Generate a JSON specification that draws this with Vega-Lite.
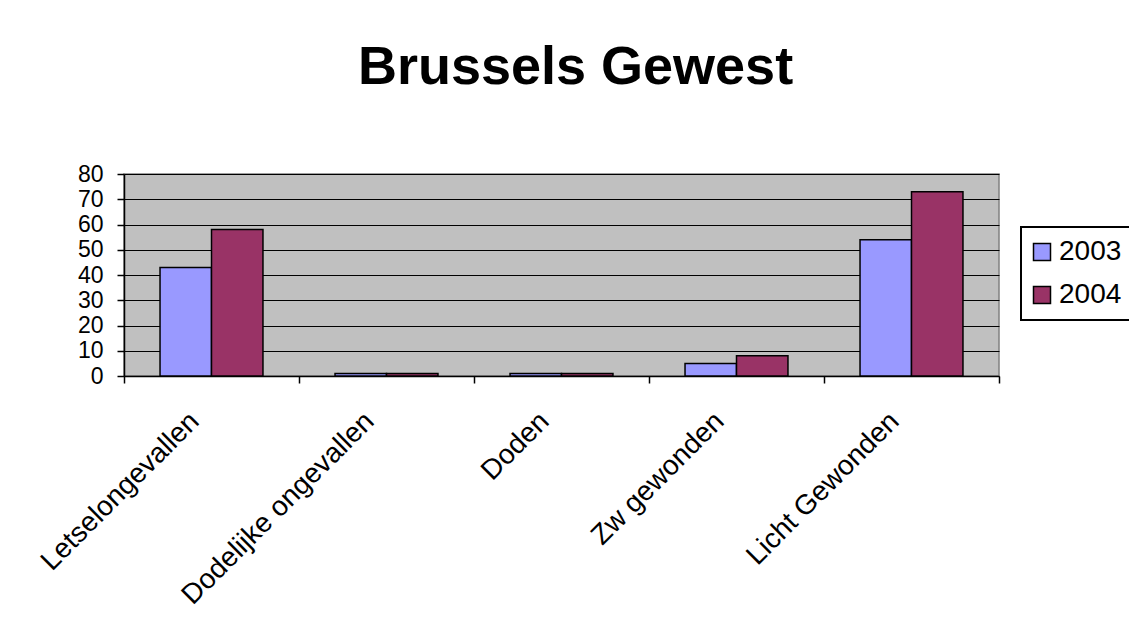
{
  "$schema": "https://vega.github.io/schema/vega-lite/v6.json",
  "width": 875,
  "height": 202,
  "autosize": {"type": "none"},
  "padding": {"left": 124, "top": 174, "right": 130, "bottom": 255},
  "background": "white",
  "title": {
    "text": "Brussels Gewest",
    "font": "Liberation Sans",
    "fontSize": 54,
    "fontWeight": "bold",
    "color": "black",
    "anchor": "middle",
    "baseline": "alphabetic",
    "offset": 25,
    "dx": 14
  },
  "data": {
    "values": [
      {"category": "Letselongevallen", "year": "2003", "value": 43},
      {"category": "Letselongevallen", "year": "2004", "value": 58},
      {"category": "Dodelijke ongevallen", "year": "2003", "value": 1},
      {"category": "Dodelijke ongevallen", "year": "2004", "value": 1},
      {"category": "Doden", "year": "2003", "value": 1},
      {"category": "Doden", "year": "2004", "value": 1},
      {"category": "Zw gewonden", "year": "2003", "value": 5},
      {"category": "Zw gewonden", "year": "2004", "value": 8},
      {"category": "Licht Gewonden", "year": "2003", "value": 54},
      {"category": "Licht Gewonden", "year": "2004", "value": 73}
    ]
  },
  "mark": {"type": "bar", "stroke": "black", "strokeWidth": 1.5},
  "encoding": {
    "x": {
      "field": "category",
      "type": "nominal",
      "sort": null,
      "scale": {"paddingInner": 0, "paddingOuter": 0},
      "axis": {
        "title": null,
        "labelAngle": -45,
        "labelFontSize": 28,
        "labelFont": "Liberation Sans",
        "labelColor": "black",
        "labelLimit": 0,
        "labelOffset": -27,
        "domainColor": "black",
        "domainWidth": 1.5,
        "tickColor": "black",
        "tickWidth": 1.5,
        "tickSize": 7,
        "tickBand": "extent",
        "labelPadding": 24
      }
    },
    "xOffset": {
      "field": "year",
      "type": "nominal",
      "scale": {"paddingInner": 0, "paddingOuter": 0.7}
    },
    "y": {
      "field": "value",
      "type": "quantitative",
      "scale": {"domain": [0, 80], "nice": false},
      "axis": {
        "title": null,
        "values": [0, 10, 20, 30, 40, 50, 60, 70, 80],
        "labelFontSize": 23,
        "labelFont": "Liberation Sans",
        "labelColor": "black",
        "labelPadding": 14,
        "grid": true,
        "gridColor": "black",
        "gridWidth": 1,
        "gridOpacity": 1,
        "domainColor": "black",
        "domainWidth": 1.5,
        "tickColor": "black",
        "tickWidth": 1.5,
        "tickSize": 7
      }
    },
    "color": {
      "field": "year",
      "type": "nominal",
      "scale": {"range": ["#9999FF", "#993366"]},
      "legend": {
        "title": null,
        "orient": "none",
        "legendX": 897,
        "legendY": 53,
        "strokeColor": "black",
        "fillColor": "white",
        "padding": 11,
        "symbolType": "square",
        "symbolSize": 289,
        "symbolOffset": -4,
        "symbolStrokeColor": "black",
        "symbolStrokeWidth": 1.5,
        "symbolOpacity": 1,
        "labelFontSize": 28,
        "labelFont": "Liberation Sans",
        "labelColor": "black",
        "labelOffset": 3,
        "rowPadding": 15,
        "encode": {"legend": {"update": {"strokeWidth": {"value": 2}}}}
      }
    }
  },
  "config": {
    "view": {"fill": "#C0C0C0", "stroke": "#808080", "strokeWidth": 1.5}
  }
}
